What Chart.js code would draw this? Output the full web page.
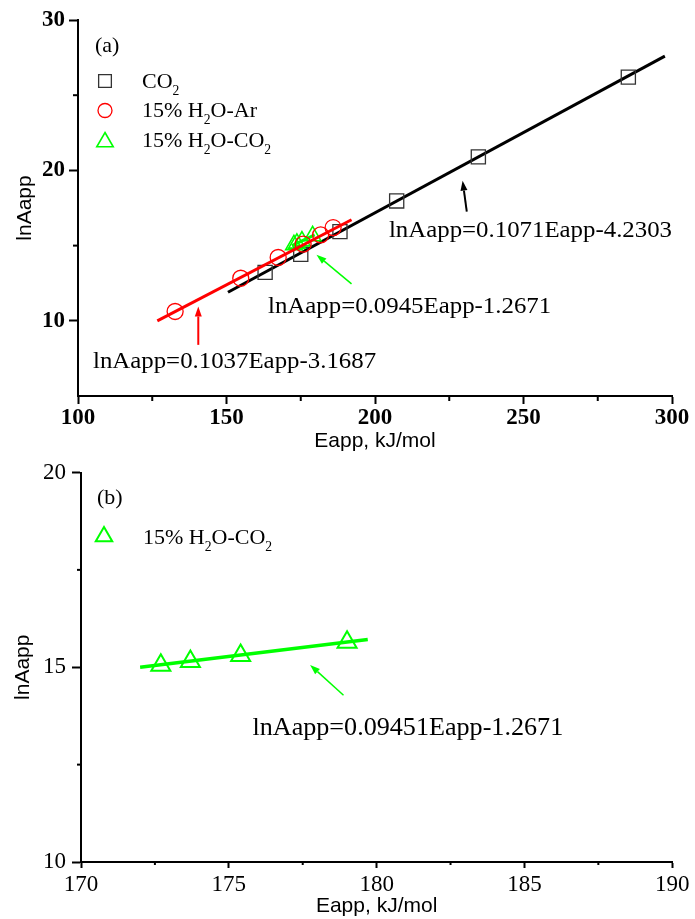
<!DOCTYPE html>
<html><head><meta charset="utf-8">
<script src="https://cdn.jsdelivr.net/npm/chart.js@4/dist/chart.umd.min.js"></script>
<style>
html,body{margin:0;padding:0;background:#fff;}
#wrap{position:relative;width:695px;height:919px;overflow:hidden;}
canvas{position:absolute;left:0;display:block;}
#c1{top:0;}
#c2{top:455px;}
</style></head><body>
<div id="wrap"><canvas id="c1" width="695" height="455"></canvas><canvas id="c2" width="695" height="464"></canvas></div>
<script>
// ---------- data ----------
const co2E   = [163.0, 175.0, 188.2, 207.3, 234.8, 285.3];
const co2LnA = [13.22, 14.42, 15.93, 17.97, 20.90, 26.20];
const arE    = [132.7, 154.8, 167.4, 175.8, 181.7, 185.9];
const arLnA  = [10.62, 12.83, 14.21, 15.10, 15.71, 16.20];
const wcE    = [172.7, 173.7, 175.4, 179.0];
const wcLnA  = [15.05, 15.15, 15.30, 15.64];
// fitted lines (end points)
const co2FitE = [150.5, 297.6];  const co2FitLnA = [11.90, 27.60];
const arFitE  = [126.7, 192.1];  const arFitLnA  = [10.00, 16.72];
const wcFitE  = [172.0, 179.7];  const wcFitLnA  = [15.00, 15.71];
// axis ticks
const aXTicks = [100,150,200,250,300]; const aXMinor = [125,175,225,275];
const aYTicks = [10,20,30];            const aYMinor = [15,25];
const bXTicks = [170,175,180,185,190]; const bXMinor = [172.5,177.5,182.5,187.5];
const bYTicks = [10,15,20];            const bYMinor = [12.5,17.5];
// labels
const seriesNames = ['CO_2', '15% H_2O-Ar', '15% H_2O-CO_2'];
const eqCO2 = 'lnAapp=0.1071Eapp-4.2303';
const eqAr  = 'lnAapp=0.1037Eapp-3.1687';
const eqWC  = 'lnAapp=0.0945Eapp-1.2671';
const eqWCb = 'lnAapp=0.09451Eapp-1.2671';

const pts = (xs, ys) => xs.map((x, i) => ({x, y: ys[i]}));
const SERIF = 'Liberation Serif', SANS = 'Liberation Sans';
const GREEN = '#00ff00', RED = '#ff0000';

function richText(ctx, str, x, y, size, color, stretch) {
  const parts = [];
  for (let i = 0; i < str.length; i++) {
    if (str[i] === '_' && i + 1 < str.length) { parts.push({t: str[i+1], sub: true}); i++; }
    else if (parts.length && !parts[parts.length-1].sub) parts[parts.length-1].t += str[i];
    else parts.push({t: str[i], sub: false});
  }
  ctx.save();
  ctx.translate(x, y); ctx.scale(stretch || 1, 1);
  ctx.fillStyle = color; ctx.textBaseline = 'alphabetic'; ctx.textAlign = 'left';
  let cx = 0;
  for (const p of parts) {
    const s = p.sub ? size * 0.62 : size;
    ctx.font = s + 'px "' + SERIF + '"';
    ctx.fillText(p.t, cx, p.sub ? size * 0.32 : 0);
    cx += ctx.measureText(p.t).width;
  }
  ctx.restore();
}

function arrow(ctx, x0, y0, x1, y1, color, w) {
  const ang = Math.atan2(y1 - y0, x1 - x0), L = 10, W = 3.5;
  const bx = x1 - Math.cos(ang) * L, by = y1 - Math.sin(ang) * L;
  ctx.strokeStyle = color; ctx.fillStyle = color; ctx.lineWidth = w;
  ctx.beginPath(); ctx.moveTo(x0, y0); ctx.lineTo(bx, by); ctx.stroke();
  ctx.beginPath(); ctx.moveTo(x1, y1);
  ctx.lineTo(bx - Math.sin(ang) * W, by + Math.cos(ang) * W);
  ctx.lineTo(bx + Math.sin(ang) * W, by - Math.cos(ang) * W);
  ctx.closePath(); ctx.fill();
}

const annotPlugin = {
  id: 'annot',
  afterDraw(chart, args, o) {
    const ctx = chart.ctx, xs = chart.scales.x, ys = chart.scales.y, ca = chart.chartArea;
    ctx.save();
    ctx.strokeStyle = '#000'; ctx.lineWidth = o.tickWidth;
    o.minorX.forEach(v => { const p = xs.getPixelForValue(v); ctx.beginPath(); ctx.moveTo(p, ca.bottom); ctx.lineTo(p, ca.bottom + o.minorLenX); ctx.stroke(); });
    o.minorY.forEach(v => { const p = ys.getPixelForValue(v); ctx.beginPath(); ctx.moveTo(ca.left, p); ctx.lineTo(ca.left - o.minorLenY, p); ctx.stroke(); });
    // panel tag
    richText(ctx, o.tag, ca.left + o.tagPos[0], ca.top + o.tagPos[1], o.fontSize, '#000', 1);
    // legend
    o.legend.forEach((it, k) => {
      const ds = chart.data.datasets[it.ds];
      const mx = ca.left + o.legPos[0], my = ca.top + o.legPos[1] + k * o.legStep;
      ctx.strokeStyle = ds.pointBorderColor || ds.borderColor; ctx.fillStyle = 'rgba(0,0,0,0)';
      ctx.lineWidth = ds.pointBorderWidth || 1;
      Chart.helpers.drawPoint(ctx, {pointStyle: ds.pointStyle, radius: it.r, rotation: 0, borderWidth: ds.pointBorderWidth || 1}, mx, my + it.dy);
      richText(ctx, ds.label, ca.left + o.legTextX, my + o.legTextDy, o.fontSize, '#000', 1);
    });
    // arrows
    o.arrows.forEach(a => arrow(ctx, xs.getPixelForValue(a.from[0]), ys.getPixelForValue(a.from[1]), xs.getPixelForValue(a.to[0]), ys.getPixelForValue(a.to[1]), a.color, a.w));
    // equations
    o.equations.forEach(e => richText(ctx, e.text, xs.getPixelForValue(e.x), ys.getPixelForValue(e.y), e.size || o.eqSize, '#000', o.eqStretch));
    ctx.restore();
  }
};

function axisCfg(min, max, ticks, isX, o) {
  return {
    type: 'linear', min, max,
    afterBuildTicks: s => { s.ticks = ticks.map(v => ({value: v})); },
    afterFit: s => { if (isX) s.height = o.size; else s.width = o.size; },
    grid: {display: true, drawOnChartArea: false, drawTicks: true, tickLength: o.tickLen, tickWidth: o.lw, tickColor: '#000'},
    border: {display: true, color: '#000', width: o.lw},
    ticks: {color: '#000', autoSkip: false, maxRotation: 0, padding: o.pad,
            font: {family: SERIF, size: 23, weight: o.bold ? 'bold' : 'normal', lineHeight: 1}},
    title: {display: true, text: isX ? 'Eapp, kJ/mol' : 'lnAapp', color: '#000',
            font: {family: SANS, size: 21, lineHeight: 1.2}, padding: isX ? {top: 0, bottom: o.tpad} : {top: o.tpad, bottom: 0}}
  };
}

const ptBase = {showLine: false, pointBackgroundColor: 'rgba(0,0,0,0)', backgroundColor: 'rgba(0,0,0,0)'};
const lineBase = {showLine: true, pointRadius: 0, pointHoverRadius: 0, fill: false};

// ---------- chart (a) ----------
new Chart(document.getElementById('c1'), {
  type: 'scatter',
  data: {datasets: [
    {...ptBase, label: seriesNames[0], data: pts(co2E, co2LnA), pointStyle: 'rect', pointRadius: 10, borderColor: '#333', pointBorderColor: '#333', pointBorderWidth: 1.3, order: 5},
    {...lineBase, label: 'fitCO2', data: pts(co2FitE, co2FitLnA), borderColor: '#000', borderWidth: 3, order: 6},
    {...ptBase, label: seriesNames[1], data: pts(arE, arLnA), pointStyle: 'circle', pointRadius: 8, borderColor: RED, pointBorderColor: RED, pointBorderWidth: 1.3, order: 2},
    {...lineBase, label: 'fitAr', data: pts(arFitE, arFitLnA), borderColor: RED, borderWidth: 3, order: 1},
    {...ptBase, label: seriesNames[2], data: pts(wcE, wcLnA), pointStyle: 'triangle', pointRadius: 9.5, borderColor: GREEN, pointBorderColor: GREEN, pointBorderWidth: 1.6, order: 3},
    {...lineBase, label: 'fitWC', data: pts(wcFitE, wcFitLnA), borderColor: GREEN, borderWidth: 3, order: 4}
  ]},
  options: {
    responsive: false, animation: false, devicePixelRatio: 1,
    layout: {padding: {top: 20, right: 23, left: 0, bottom: 0}},
    events: [],
    scales: {
      x: axisCfg(100, 300, aXTicks, true, {size: 59, tickLen: 8, lw: 2, pad: 2.5, bold: true, tpad: 1.5}),
      y: axisCfg(5, 30, aYTicks, false, {size: 78, tickLen: 9, lw: 2, pad: 4, bold: true, tpad: 12.5})
    },
    plugins: {
      legend: {display: false}, tooltip: {enabled: false},
      annot: {
        tickWidth: 2, minorX: aXMinor, minorY: aYMinor, minorLenX: 5, minorLenY: 5,
        tag: '(a)', tagPos: [17, 32], fontSize: 22,
        legend: [{ds: 0, r: 9, dy: 0}, {ds: 2, r: 7, dy: 0}, {ds: 4, r: 9.5, dy: 2}],
        legPos: [27, 61], legStep: 29.5, legTextX: 64, legTextDy: 6.5,
        eqSize: 23, eqStretch: 1.08,
        equations: [
          {text: eqCO2, x: 204.7, y: 15.58},
          {text: eqWC,  x: 164.0, y: 10.53},
          {text: eqAr,  x: 105.05, y: 6.88}
        ],
        arrows: [
          {from: [230.9, 17.26], to: [229.5, 19.32], color: '#000', w: 2},
          {from: [192.1, 12.46], to: [180.3, 14.39], color: GREEN, w: 1.5},
          {from: [140.5, 8.40],  to: [140.5, 10.95], color: RED, w: 2}
        ]
      }
    }
  },
  plugins: [annotPlugin]
});

// ---------- chart (b) ----------
new Chart(document.getElementById('c2'), {
  type: 'scatter',
  data: {datasets: [
    {...ptBase, label: seriesNames[2], data: pts(wcE, wcLnA), pointStyle: 'triangle', pointRadius: 11, borderColor: GREEN, pointBorderColor: GREEN, pointBorderWidth: 2, order: 2},
    {...lineBase, label: 'fitWC', data: pts(wcFitE, wcFitLnA), borderColor: GREEN, borderWidth: 3.5, order: 1}
  ]},
  options: {
    responsive: false, animation: false, devicePixelRatio: 1,
    layout: {padding: {top: 17, right: 22, left: 0, bottom: 0}},
    events: [],
    scales: {
      x: axisCfg(170, 190, bXTicks, true, {size: 57, tickLen: 6, lw: 2, pad: 5.5, bold: false, tpad: 0}),
      y: axisCfg(10, 20, bYTicks, false, {size: 81, tickLen: 9, lw: 2, pad: 6, bold: false, tpad: 10.5})
    },
    plugins: {
      legend: {display: false}, tooltip: {enabled: false},
      annot: {
        tickWidth: 2, minorX: bXMinor, minorY: bYMinor, minorLenX: 3, minorLenY: 4,
        tag: '(b)', tagPos: [16, 31], fontSize: 22,
        legend: [{ds: 0, r: 9.5, dy: 2}],
        legPos: [23, 62], legStep: 30, legTextX: 62, legTextDy: 9,
        eqSize: 23, eqStretch: 1.08,
        equations: [{text: eqWCb, x: 175.8, y: 13.25, size: 24.2}],
        arrows: [{from: [178.88, 14.28], to: [177.75, 15.06], color: GREEN, w: 1.5}]
      }
    }
  },
  plugins: [annotPlugin]
});
</script>
</body></html>
